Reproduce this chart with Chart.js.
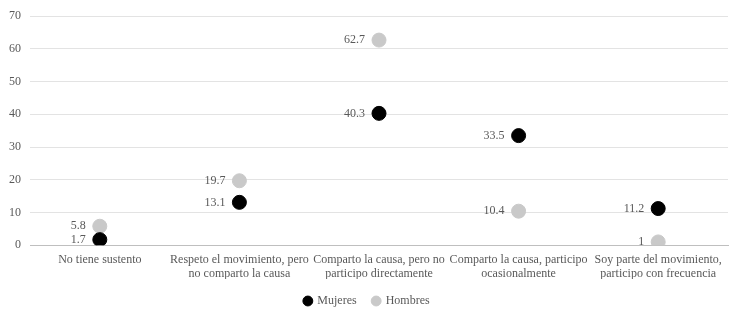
<!DOCTYPE html>
<html>
<head>
<meta charset="utf-8">
<script src="https://cdn.jsdelivr.net/npm/chart.js@4.4.1/dist/chart.umd.min.js"></script>
<style>
  html, body { margin: 0; padding: 0; background: #fff; }
  #wrap { width: 736px; height: 310px; }
</style>
</head>
<body>
<div id="wrap"><canvas id="chart"></canvas></div>
<script>
const categories = [
  'No tiene sustento',
  ['Respeto el movimiento, pero', 'no comparto la causa'],
  ['Comparto la causa, pero no', 'participo directamente'],
  ['Comparto la causa, participo', 'ocasionalmente'],
  ['Soy parte del movimiento,', 'participo con frecuencia'],
];
const mujeres = [1.7, 13.1, 40.3, 33.5, 11.2];
const hombres = [5.8, 19.7, 62.7, 10.4, 1];

const FONT = "'Liberation Serif', 'Times New Roman', serif";
const TEXT = '#595959';

// writes each value to the left of its point
const valueLabels = {
  id: 'valueLabels',
  afterDatasetsDraw(chart) {
    const ctx = chart.ctx;
    ctx.save();
    ctx.font = '12px ' + FONT;
    ctx.fillStyle = TEXT;
    ctx.textAlign = 'right';
    ctx.textBaseline = 'middle';
    chart.data.datasets.forEach((ds, i) => {
      chart.getDatasetMeta(i).data.forEach((pt, j) => {
        ctx.fillText(String(ds.data[j]), pt.x - 14, pt.y);
      });
    });
    ctx.restore();
  },
};

const config = {
  type: 'line',
  data: {
    labels: categories,
    datasets: [
      {
        label: 'Mujeres',
        data: mujeres,
        showLine: false,
        pointRadius: 7,
        pointHoverRadius: 7,
        pointBackgroundColor: '#000000',
        pointBorderColor: '#000000',
        backgroundColor: '#000000',
        borderColor: '#000000',
      },
      {
        label: 'Hombres',
        data: hombres,
        showLine: false,
        pointRadius: 7,
        pointHoverRadius: 7,
        pointBackgroundColor: '#c9c9c9',
        pointBorderColor: '#c9c9c9',
        backgroundColor: '#c9c9c9',
        borderColor: '#c9c9c9',
      },
    ],
  },
  options: {
    responsive: true,
    maintainAspectRatio: false,
    animation: false,
    layout: { padding: { left: 0, right: 2, top: -5, bottom: -7 } },
    scales: {
      x: {
        offset: true,
        grid: { display: false, drawTicks: false },
        border: { display: true, color: '#bfbfbf' },
        ticks: {
          color: TEXT,
          font: { family: FONT, size: 12 },
          padding: 7,
          maxRotation: 0,
          autoSkip: false,
        },
        afterFit: scale => { scale.height -= 9; },
      },
      y: {
        min: 0,
        max: 70,
        grid: {
          drawTicks: false,
          color: ctx => (ctx.tick.value === 0 ? '#bfbfbf' : '#e3e3e3'),
        },
        border: { display: false },
        ticks: {
          stepSize: 10,
          color: TEXT,
          font: { family: FONT, size: 12 },
          padding: 9,
        },
      },
    },
    plugins: {
      legend: {
        position: 'bottom',
        labels: {
          usePointStyle: true,
          pointStyle: 'circle',
          boxWidth: 7,
          boxHeight: 7,
          padding: 16,
          color: TEXT,
          font: { family: FONT, size: 12 },
        },
      },
      tooltip: { enabled: false },
    },
  },
  plugins: [valueLabels],
};

new Chart(document.getElementById('chart'), config);
</script>
</body>
</html>
